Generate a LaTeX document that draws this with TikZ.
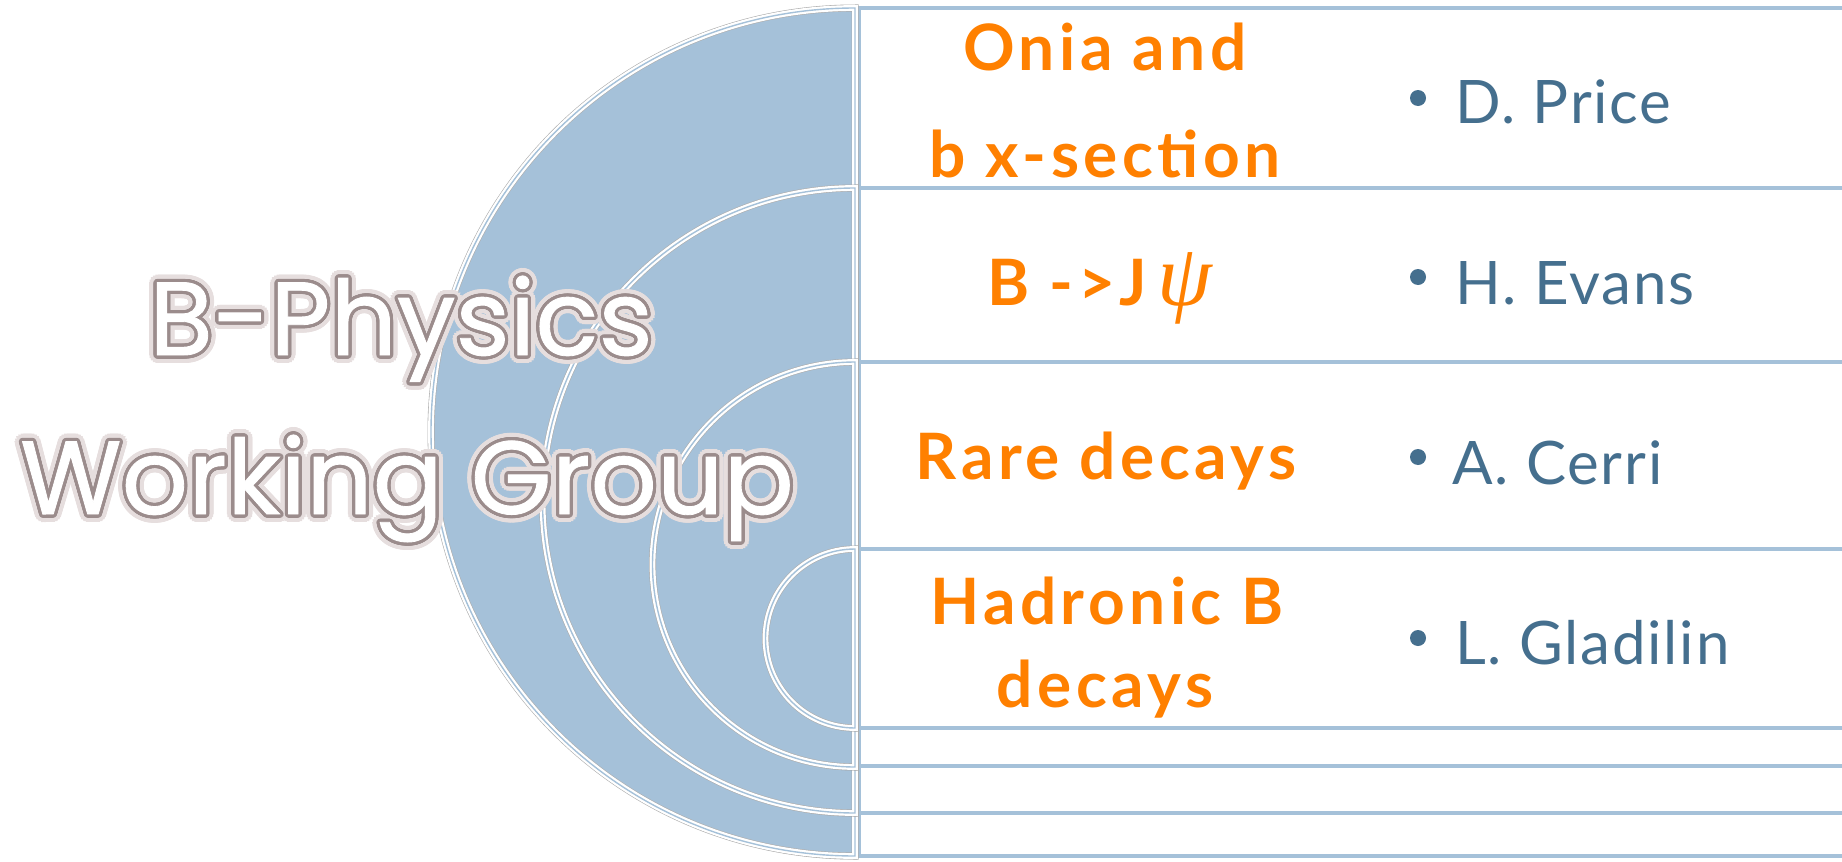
\documentclass[tikz,border=0pt]{standalone}
\usepackage{fontspec}
\setmainfont{Lato}
\newfontfamily\ttlfont[FakeBold=0.8]{Poppins}
\newfontfamily\psifont{Liberation Serif}
\usetikzlibrary{shadows}
\definecolor{diskblue}{RGB}{165,193,217}
\definecolor{rowline}{RGB}{165,193,217}
\definecolor{nameblue}{RGB}{69,111,142}
\definecolor{topicorange}{RGB}{255,128,0}
\definecolor{ttloutline}{RGB}{155,140,140}
\definecolor{ttlglow}{RGB}{230,222,222}
\begin{document}
\begin{tikzpicture}[x=0.5pt,y=-0.5pt,
  rowbox/.style={draw=rowline,line width=2pt,fill=white},
  diskedge/.style={draw=white,line width=1.1pt,double=diskblue,double distance=0.7pt},
  diskrim/.style={draw=black!32,line width=3.5pt},
  topic/.style={font=\bfseries\addfontfeatures{LetterSpace=7}\fontsize{32}{36}\selectfont,text=topicorange,anchor=base,inner sep=0pt},
  person/.style={font=\addfontfeatures{LetterSpace=3}\fontsize{30}{36}\selectfont,text=nameblue,anchor=base west,inner sep=0pt},
  bulletdot/.style={circle,fill=nameblue,inner sep=0pt,minimum size=8pt},
  ttl/.style={font=\ttlfont\fontsize{52}{60}\selectfont,anchor=base,inner sep=0pt}
]
\useasboundingbox (0,0) rectangle (1842,862);
\clip (0,0) rectangle (1842,862);

% row boxes of the nested target
\draw[rowbox] (859,8) rectangle (1900,856);
\draw[rowbox] (859,188) rectangle (1900,813);
\draw[rowbox] (859,362) rectangle (1900,766);
\draw[rowbox] (859,549) rectangle (1900,728);

% half disks
\foreach \cy/\r in {432/424,500.5/312.5,564.5/202.5,638.5/89.5}{
  \fill[diskblue,drop shadow={opacity=0.3,shadow xshift=1pt,shadow yshift=-1.8pt}]
    (855,\cy-\r) arc[start angle=270,end angle=90,radius=\r] -- cycle;
  \draw[diskrim] (855,\cy-\r) arc[start angle=270,end angle=90,radius=\r] -- cycle;
  \draw[diskedge] (855,\cy-\r) arc[start angle=270,end angle=90,radius=\r] -- cycle;
}

% topics
\node[topic] (t1a) at (1105,70) {Onia and};
\node[topic] (t1b) at (1105,177) {b x-section};
\node[topic] (t2) at (1100,305) {B ->J\,{\psifont\itshape\mdseries\fontsize{44}{46}\selectfont ψ}};
\node[topic] (t3) at (1106,479) {Rare decays};
\node[topic] (t4a) at (1107,624) {Hadronic B};
\node[topic] (t4b) at (1105,707) {decays};

% people
\node[bulletdot] (b1) at (1418,98) {};
\node[bulletdot] (b2) at (1418,277) {};
\node[bulletdot] (b3) at (1418,457) {};
\node[bulletdot] (b4) at (1418,638) {};
\node[person] (n1) at (1455,123) {D. Price};
\node[person] (n2) at (1455,304) {H. Evans};
\node[person] (n3) at (1452,484) {A. Cerri};
\node[person] (n4) at (1455,664) {L. Gladilin};

% title with glow and outline
\foreach \a in {0,20,...,340}{
  \node[ttl,text=ttlglow,xshift={3.8pt*cos(\a)},yshift={3.8pt*sin(\a)}] at (401,355) {B-Physics};
  \node[ttl,text=ttlglow,xshift={3.8pt*cos(\a)},yshift={3.8pt*sin(\a)}] at (407,514) {Working Group};
}
\foreach \a in {0,15,...,345}{
  \node[ttl,text=ttloutline,xshift={1.6pt*cos(\a)},yshift={1.6pt*sin(\a)}] at (401,355) {B-Physics};
  \node[ttl,text=ttloutline,xshift={1.6pt*cos(\a)},yshift={1.6pt*sin(\a)}] at (407,514) {Working Group};
}
\node[ttl,text=white] (ttl1) at (401,355) {B-Physics};
\node[ttl,text=white] (ttl2) at (407,514) {Working Group};
\end{tikzpicture}
\end{document}
